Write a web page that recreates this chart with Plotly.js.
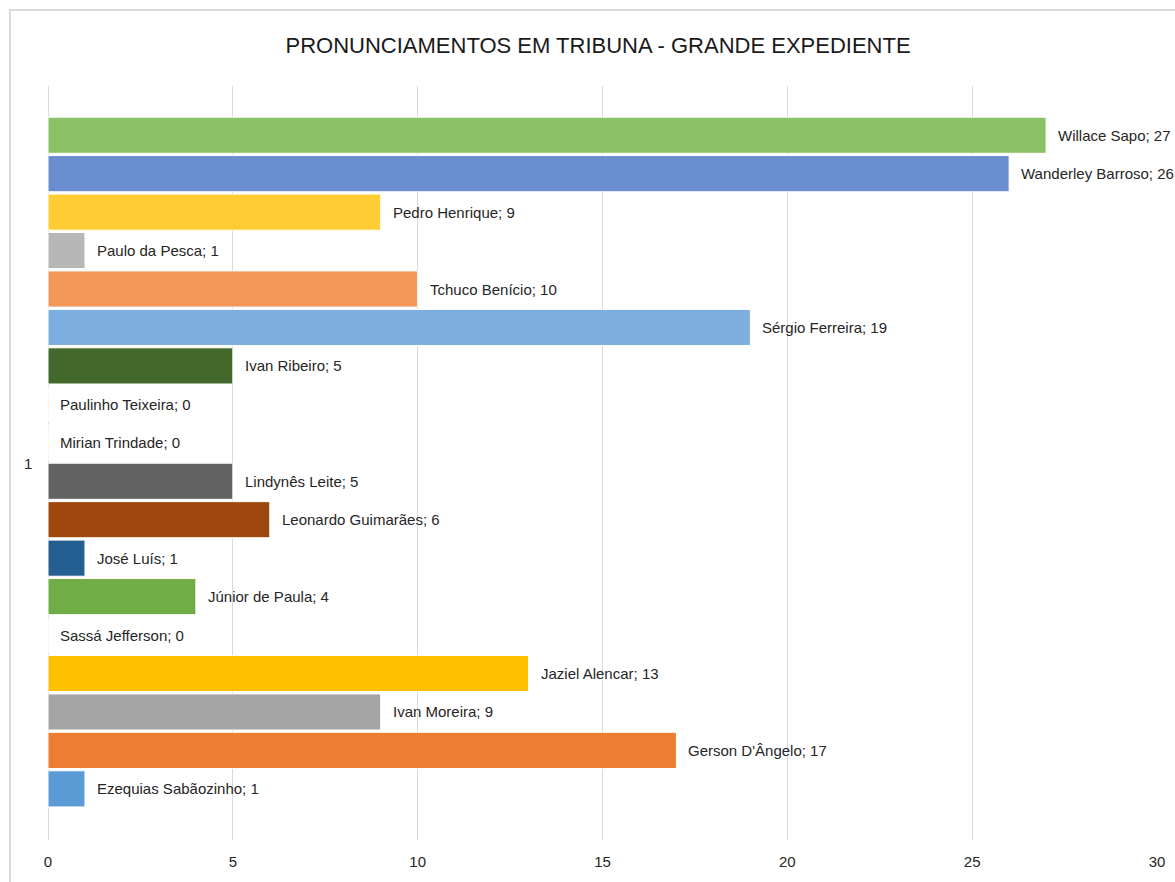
<!DOCTYPE html>
<html>
<head>
<meta charset="utf-8">
<script src="https://cdn.plot.ly/plotly-3.0.1.min.js"></script>
<style>html,body{margin:0;padding:0;background:#fff;}#chart{width:1175px;height:882px;}</style>
</head>
<body>
<div id="chart"></div>
<script>
// Top-to-bottom order as shown in the chart
const names = ["Willace Sapo","Wanderley Barroso","Pedro Henrique","Paulo da Pesca","Tchuco Benício","Sérgio Ferreira","Ivan Ribeiro","Paulinho Teixeira","Mirian Trindade","Lindynês Leite","Leonardo Guimarães","José Luís","Júnior de Paula","Sassá Jefferson","Jaziel Alencar","Ivan Moreira","Gerson D'Ângelo","Ezequias Sabãozinho"];
const values = [27,26,9,1,10,19,5,0,0,5,6,1,4,0,13,9,17,1];
const colors = ["#8CC168","#698ED0","#FFCD33","#B7B7B7","#F1975A","#7CAFDD","#43682B","#264478","#997300","#636363","#9E480E","#255E91","#70AD47","#4472C4","#FFC000","#A5A5A5","#ED7D31","#5B9BD5"];
const categoryLabel = "1";
const xTicks = [0,5,10,15,20,25,30];

const FONT = "Liberation Sans, Arial, sans-serif";

const trace = {
  type: "bar",
  orientation: "h",
  x: values,
  y: names,
  marker: {color: colors, line: {color: "#ffffff", width: 1}},
  hoverinfo: "x+y"
};

const annotations = names.map((n, i) => ({
  x: values[i], y: n, xref: "x", yref: "y",
  text: n + "; " + values[i],
  showarrow: false, xanchor: "left", yanchor: "middle", xshift: 10,
  font: {family: FONT, size: 15, color: "#262626"}
}));
annotations.push({
  xref: "paper", yref: "paper", x: 0, y: 0.5, xshift: -20,
  text: categoryLabel, showarrow: false, xanchor: "center", yanchor: "middle",
  font: {family: FONT, size: 15, color: "#262626"}
});

const layout = {
  width: 1175, height: 882,
  margin: {l: 48, r: 18, t: 86, b: 42},
  paper_bgcolor: "#ffffff", plot_bgcolor: "#ffffff",
  showlegend: false,
  bargap: 0.06,
  title: {
    text: "PRONUNCIAMENTOS EM TRIBUNA - GRANDE EXPEDIENTE",
    x: 0.509, xanchor: "center", y: 0.949, yanchor: "middle",
    font: {family: FONT, size: 22, color: "#1a1a1a"}
  },
  xaxis: {
    range: [0, 30], tickvals: xTicks, ticktext: xTicks.map(String),
    showgrid: true, gridcolor: "#d9d9d9", gridwidth: 1,
    zeroline: true, zerolinecolor: "#d9d9d9", zerolinewidth: 1,
    showline: false, ticks: "outside", ticklen: 8, tickcolor: "rgba(0,0,0,0)",
    tickfont: {family: FONT, size: 15, color: "#262626"},
    fixedrange: true
  },
  yaxis: {
    type: "category", range: [18.33, -1.28],
    showticklabels: false, showgrid: false, zeroline: false, showline: false, ticks: "",
    fixedrange: true
  },
  annotations: annotations,
  shapes: [{
    type: "rect", xref: "paper", yref: "paper",
    x0: -0.0343, x1: 1.2, y0: -0.2, y1: 1.1008,
    line: {color: "#d9d9d9", width: 2}, fillcolor: "rgba(0,0,0,0)", layer: "below"
  }]
};

Plotly.newPlot("chart", [trace], layout, {displayModeBar: false, staticPlot: true});
</script>
</body>
</html>
